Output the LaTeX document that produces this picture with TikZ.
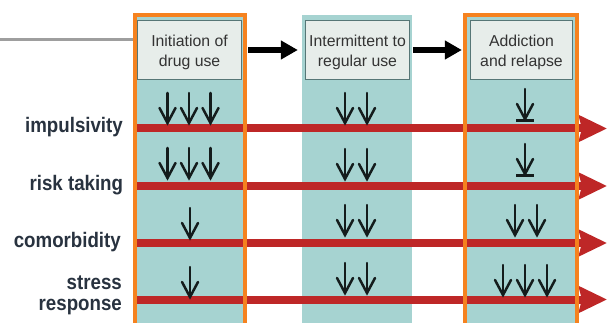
\documentclass[tikz,border=0pt]{standalone}
\usepackage{fontspec}
\setmainfont{Liberation Sans}
\newfontfamily\labelfont[FakeStretch=0.89]{Liberation Sans}
\usetikzlibrary{arrows.meta}
\definecolor{tealfill}{HTML}{A6D3D1}
\definecolor{hdrfill}{HTML}{E7EDEA}
\definecolor{hdrline}{HTML}{567676}
\definecolor{orangeline}{HTML}{F5821F}
\definecolor{redbarc}{HTML}{BE2727}
\definecolor{grayline}{HTML}{9E9E9E}
\definecolor{labelc}{HTML}{28323F}
\definecolor{arrowc}{HTML}{141C1C}
\begin{document}
\begin{tikzpicture}[x=1pt,y=-1pt,
  hdr/.style={draw=hdrline, line width=1.3pt, fill=hdrfill, minimum height=59pt,
    inner sep=0pt, align=center, text=black!80,
    font=\fontsize{15.8}{20}\selectfont},
  lbl/.style={inner sep=0pt, anchor=base east, text=labelc,
    font=\labelfont\bfseries\fontsize{21}{21}\selectfont},
  redbar/.style={draw=redbarc, line width=8pt,
    -{Stealth[length=28pt,width=26pt,inset=3pt]}},
  orangebox/.style={draw=orangeline, line width=4pt},
  bigarrow/.style={draw=black, line width=6pt, -{Triangle[length=17pt,width=18pt]}},
  thinarrow/.style={draw=arrowc, line width=2.5pt, line cap=round},
  pics/dnarrow/.style={code={
    \draw[thinarrow] (0,0) -- (0,29);
    \draw[thinarrow] (-8,15) -- (0,30) -- (8,15);
  }},
  pics/bararrow/.style={code={
    \draw[thinarrow] (0,0) -- (0,29);
    \draw[thinarrow] (-8,15) -- (0,30) -- (8,15);
    \draw[thinarrow, line width=3pt, line cap=butt] (-9,31.5) -- (9,31.5);
  }}
]
\useasboundingbox (0,0) rectangle (607,323);
\clip (0,0) rectangle (607,323);
\fill[white] (0,0) rectangle (607,323);

% gray line at left
\coordinate (gl) at (0,40);
\coordinate (gr) at (134,40);
\draw[grayline, line width=3pt] (gl) -- (gr);

% teal columns
\fill[tealfill] (133,13) rectangle (247,330);
\fill[tealfill] (302,15) rectangle (412,330);
\fill[tealfill] (463,13) rectangle (579,330);

% red bars
\coordinate (rs1) at (135,128.5); \coordinate (re1) at (607,128.5);
\coordinate (rs2) at (135,186);   \coordinate (re2) at (607,186);
\coordinate (rs3) at (135,243);   \coordinate (re3) at (607,243);
\coordinate (rs4) at (135,299.5); \coordinate (re4) at (607,299.5);
\draw[redbar] (rs1) -- (re1);
\draw[redbar] (rs2) -- (re2);
\draw[redbar] (rs3) -- (re3);
\draw[redbar] (rs4) -- (re4);

% orange frames
\draw[orangebox] (135,15) rectangle (245,340);
\draw[orangebox] (465,15) rectangle (577,340);

% headers
\node[hdr, minimum width=104pt] (h1) at (189.5,50)
  {\rule{0pt}{16.7pt}Initiation of\\drug use\rule[-3.3pt]{0pt}{3.3pt}};
\node[hdr, minimum width=104pt] (h2) at (357.5,50)
  {\rule{0pt}{16.7pt}Intermittent to\\regular use\rule[-3.3pt]{0pt}{3.3pt}};
\node[hdr, minimum width=102pt] (h3) at (521.5,50)
  {\rule{0pt}{16.7pt}Addiction\\and relapse\rule[-3.3pt]{0pt}{3.3pt}};

\draw[bigarrow] ([xshift=6pt]h1.east) -- ([xshift=-7pt]h2.west);
\draw[bigarrow] ([xshift=3pt]h2.east) -- ([xshift=-8pt]h3.west);

% labels
\node[lbl] (l1) at (123,132.3) {impulsivity};
\node[lbl] (l2) at (123.3,190) {risk taking};
\node[lbl] (l3) at (121,247.3) {comorbidity};
\node[lbl] (l4a) at (122,289.3) {stress};
\node[lbl] (l4b) at (122,310.7) {response};

% row 1
\pic at (167.5,93) {dnarrow};
\pic at (189,93) {dnarrow};
\pic at (210.5,93) {dnarrow};
\pic at (345,93) {dnarrow};
\pic at (367,93) {dnarrow};
\pic at (525,89) {bararrow};
% row 2
\pic at (167.5,148) {dnarrow};
\pic at (189,148) {dnarrow};
\pic at (210.5,148) {dnarrow};
\pic at (345,149) {dnarrow};
\pic at (367,149) {dnarrow};
\pic at (525,144) {bararrow};
% row 3
\pic at (190,208) {dnarrow};
\pic at (345,205) {dnarrow};
\pic at (367,205) {dnarrow};
\pic at (515,205) {dnarrow};
\pic at (537,205) {dnarrow};
% row 4
\pic at (190,267) {dnarrow};
\pic at (345,263) {dnarrow};
\pic at (367,263) {dnarrow};
\pic at (503,265) {dnarrow};
\pic at (525,265) {dnarrow};
\pic at (547,265) {dnarrow};
\end{tikzpicture}
\end{document}
